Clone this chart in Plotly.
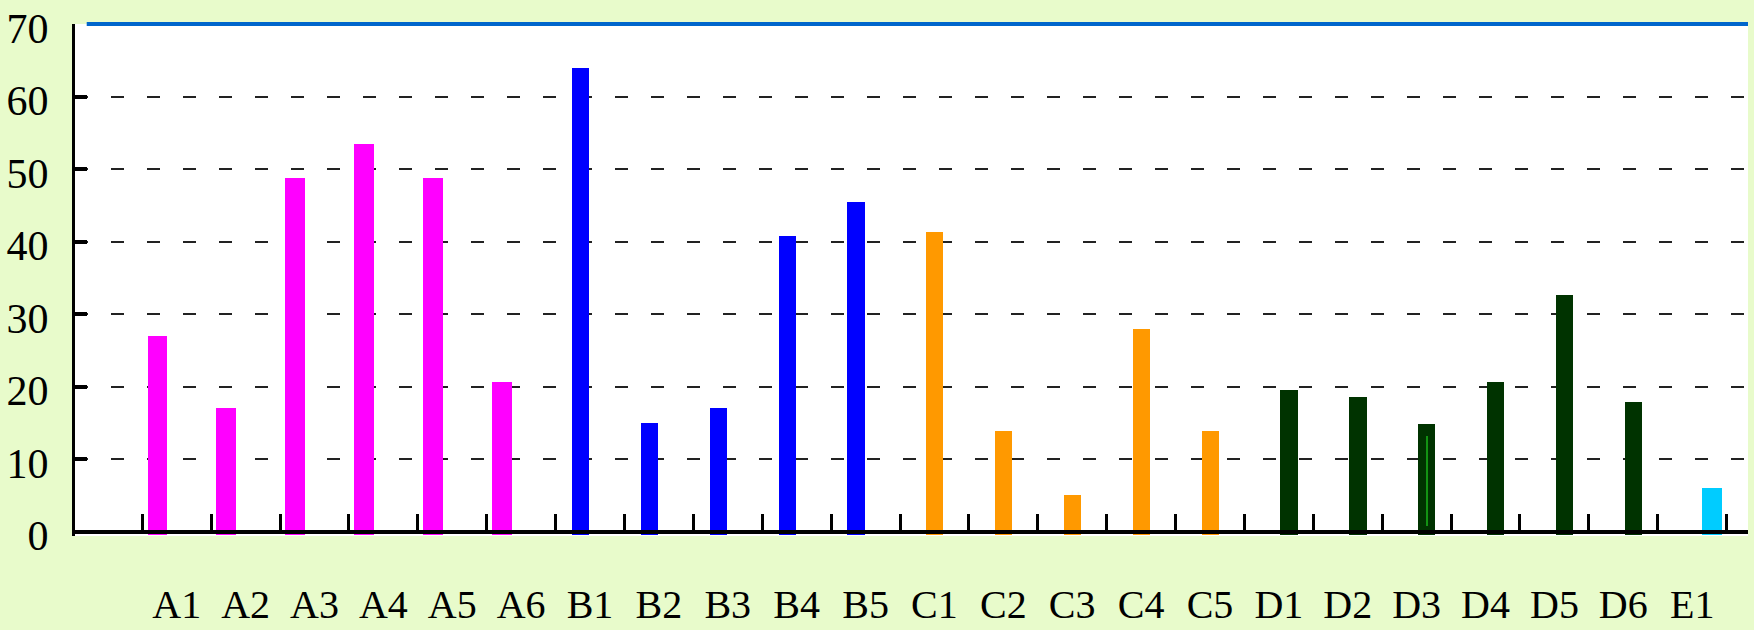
import plotly.graph_objects as go

# Category labels along the x axis
categories = ["A1", "A2", "A3", "A4", "A5", "A6",
              "B1", "B2", "B3", "B4", "B5",
              "C1", "C2", "C3", "C4", "C5",
              "D1", "D2", "D3", "D4", "D5", "D6",
              "E1"]

# Values per group
labels_a = ["A1", "A2", "A3", "A4", "A5", "A6"]
values_a = [27.0, 17.0, 48.7, 53.5, 48.7, 20.6]

labels_b = ["B1", "B2", "B3", "B4", "B5"]
values_b = [63.9, 14.9, 17.0, 40.8, 45.5]

labels_c = ["C1", "C2", "C3", "C4", "C5"]
values_c = [41.3, 13.8, 5.0, 27.9, 13.8]

labels_d = ["D1", "D2", "D3", "D4", "D5", "D6"]
values_d = [19.5, 18.5, 14.8, 20.6, 32.6, 17.9]

labels_e = ["E1"]
values_e = [6.0]

# thin highlight inside the D3 bar
d3_line_low = 0.8
d3_line_high = 13.2

y_ticks = [0, 10, 20, 30, 40, 50, 60, 70]

Y_MIN, Y_MAX = -0.62, 70
BAR_BASE = -0.55  # bars sink slightly below the zero axis

# (labels, values, colour, width, centre shift) in category units
series = [
    (labels_a, values_a, "#ff00ff", 0.288, -0.279),
    (labels_b, values_b, "#0000ff", 0.252, -0.137),
    (labels_c, values_c, "#ff9900", 0.250, 0.005),
    (labels_d, values_d, "#003300", 0.250, 0.148),
    (labels_e, values_e, "#00ccff", 0.283, 0.290),
]

fig = go.Figure()
for labels, values, colour, width, shift in series:
    fig.add_trace(go.Bar(
        x=labels,
        y=[v - BAR_BASE for v in values],
        base=BAR_BASE,
        width=width,
        offset=shift - width / 2,
        marker=dict(color=colour, line=dict(width=0)),
        showlegend=False,
    ))

fig.add_trace(go.Bar(
    x=["D3"],
    y=[d3_line_high - d3_line_low],
    base=d3_line_low,
    width=0.03,
    offset=0.148 - 0.015,
    marker=dict(color="#139313", line=dict(width=0)),
    showlegend=False,
))

serif = "Liberation Serif, Times New Roman, serif"

fig.update_layout(
    width=1754,
    height=630,
    margin=dict(l=75, r=6, t=24, b=94, autoexpand=False),
    paper_bgcolor="#e8fbcb",
    plot_bgcolor="#ffffff",
    barmode="overlay",
    bargap=0,
    font=dict(family=serif, color="#000000", size=40),
    xaxis=dict(
        type="category",
        categoryorder="array",
        categoryarray=categories,
        range=[-1.476, 22.81],
        anchor="free",
        position=(0 - Y_MIN) / (Y_MAX - Y_MIN),
        showline=True,
        linecolor="#000000",
        linewidth=3.5,
        ticks="inside",
        tickson="boundaries",
        ticklen=16,
        tickwidth=2.5,
        tickcolor="#000000",
        showgrid=False,
        zeroline=False,
        ticklabelstandoff=37,
        tickfont=dict(family=serif, size=40, color="#000000"),
        automargin=False,
    ),
    yaxis=dict(
        range=[Y_MIN, Y_MAX],
        tickvals=y_ticks,
        showline=True,
        linecolor="#000000",
        linewidth=3,
        ticks="inside",
        ticklen=12,
        tickwidth=3.5,
        tickcolor="#000000",
        showgrid=True,
        gridcolor="#222222",
        gridwidth=1.5,
        griddash="13px,23px",
        zeroline=False,
        ticklabelstandoff=15,
        ticklabelshift=4,
        tickfont=dict(family=serif, size=42, color="#000000"),
        automargin=False,
    ),
    # blue rule along the top of the plotting area
    shapes=[dict(
        type="line", xref="paper", yref="paper",
        x0=0.007, x1=1, y0=1, y1=1,
        line=dict(color="#0066cc", width=4),
        layer="above",
    )],
)

fig.write_html("out.html")
